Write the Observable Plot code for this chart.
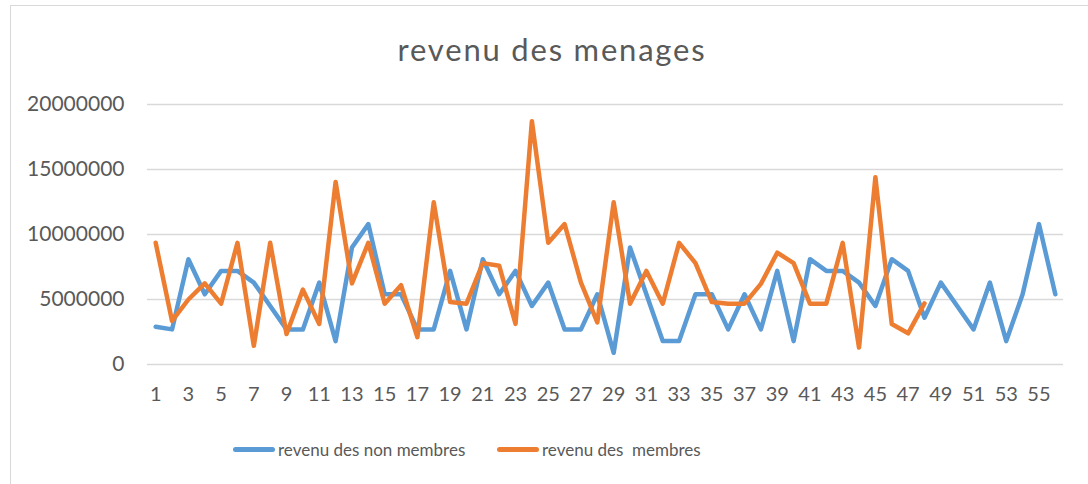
<!DOCTYPE html>
<html>
<head>
<meta charset="utf-8">
<script src="https://cdn.jsdelivr.net/npm/d3@7"></script>
<script src="https://cdn.jsdelivr.net/npm/@observablehq/plot@0.6"></script>
<style>
  html, body { margin: 0; padding: 0; background: #fff; }
  #wrap { position: relative; width: 1088px; height: 484px; overflow: hidden; font-family: Lato, "Open Sans", sans-serif; color: #595959; }
  #frame { position: absolute; left: 10px; top: 5px; width: 1200px; height: 600px; border-left: 1.5px solid #d9d9d9; border-top: 1.5px solid #d9d9d9; }
  #chart { position: absolute; left: 0; top: 0; }
  #title { position: absolute; left: 0; width: 1104px; top: 34px; text-align: center; font-size: 31px; line-height: 31px; letter-spacing: 1.8px; color: #595959; }
  .leg { position: absolute; top: 437px; height: 24px; display: flex; align-items: center; font-size: 17px; color: #595959; white-space: pre; }
  .sw { width: 42px; height: 5px; border-radius: 3px; margin-right: 3px; }
</style>
</head>
<body>
<div id="wrap">
  <div id="frame"></div>
  <div id="chart"></div>
  <div id="title">revenu des menages</div>
  <div class="leg" style="left:233px"><div class="sw" style="background:#5B9BD5"></div><span>revenu des non membres</span></div>
  <div class="leg" style="left:497px"><div class="sw" style="background:#ED7D31"></div><span>revenu des  membres</span></div>
</div>
<script>
const categories = [1,2,3,4,5,6,7,8,9,10,11,12,13,14,15,16,17,18,19,20,21,22,23,24,25,26,27,28,29,30,31,32,33,34,35,36,37,38,39,40,41,42,43,44,45,46,47,48,49,50,51,52,53,54,55,56];

const nonMembres = [2900000,2700000,8100000,5400000,7200000,7200000,6300000,4500000,2700000,2700000,
  6300000,1800000,9000000,10800000,5400000,5400000,2700000,2700000,7200000,2700000,
  8100000,5400000,7200000,4500000,6300000,2700000,2700000,5400000,900000,9000000,
  5400000,1800000,1800000,5400000,5400000,2700000,5400000,2700000,7200000,1800000,
  8100000,7200000,7200000,6300000,4500000,8100000,7200000,3600000,6300000,4500000,
  2700000,6300000,1800000,5400000,10800000,5400000];

const membres = [9360000,3350000,5000000,6240000,4680000,9360000,1440000,9360000,2340000,5760000,
  3120000,14040000,6240000,9360000,4680000,6100000,2100000,12480000,4800000,4680000,
  7800000,7600000,3120000,18720000,9360000,10800000,6300000,3240000,12480000,4680000,
  7200000,4680000,9360000,7800000,4800000,4680000,4680000,6200000,8600000,7800000,
  4680000,4680000,9360000,1300000,14400000,3120000,2400000,4700000];

const xTicks = [1,3,5,7,9,11,13,15,17,19,21,23,25,27,29,31,33,35,37,39,41,43,45,47,49,51,53,55];
const yTicks = [0,5000000,10000000,15000000,20000000];

const blueData = nonMembres.map((v, i) => ({x: categories[i], y: v}));
const orangeData = membres.map((v, i) => ({x: categories[i], y: v}));

const chart = Plot.plot({
  width: 1088,
  height: 484,
  marginLeft: 147,
  marginRight: 25,
  marginTop: 104,
  marginBottom: 120,
  style: { fontFamily: "Lato, 'Open Sans', sans-serif", color: "#595959", background: "transparent" },
  x: { domain: [0.5, 56.5] },
  y: { domain: [0, 20000000] },
  marks: [
    Plot.gridY(yTicks, { stroke: "#d9d9d9", strokeOpacity: 1, strokeWidth: 1.5 }),
    Plot.axisY(yTicks, { tickSize: 0, tickPadding: 23, tickFormat: d => String(d), fontSize: 21, label: null }),
    Plot.axisX(xTicks, { tickSize: 0, tickPadding: 22, tickFormat: d => String(d), fontSize: 20, label: null }),
    Plot.line(blueData, { x: "x", y: "y", stroke: "#5B9BD5", strokeWidth: 4.5, strokeLinejoin: "round", strokeLinecap: "round" }),
    Plot.line(orangeData, { x: "x", y: "y", stroke: "#ED7D31", strokeWidth: 4.5, strokeLinejoin: "round", strokeLinecap: "round" })
  ]
});
document.getElementById("chart").appendChild(chart);
</script>
</body>
</html>
